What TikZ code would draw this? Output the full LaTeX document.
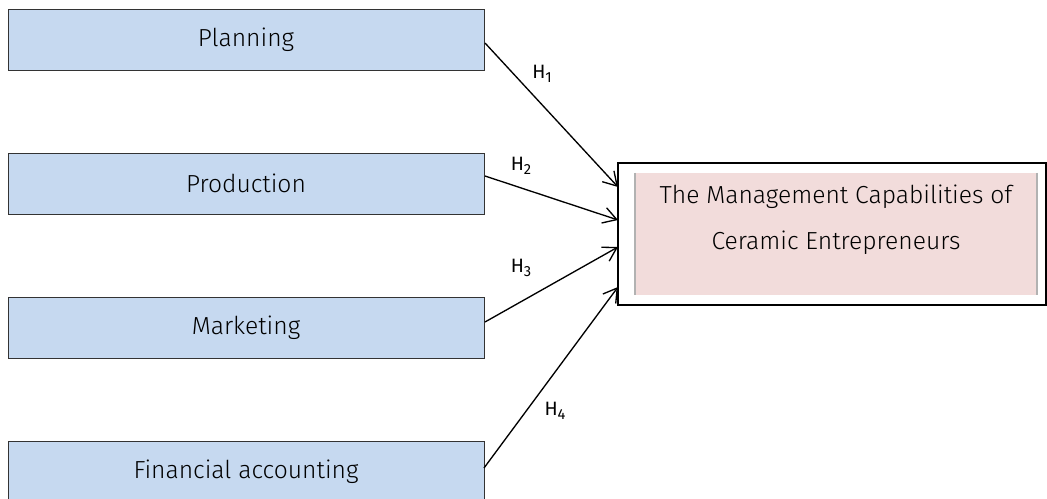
\documentclass[tikz,border=0pt]{standalone}
\usepackage{fontspec}
\setmainfont{Fira Sans Light}
\newfontfamily\hfont{Fira Sans}
\usetikzlibrary{arrows.meta}
\definecolor{boxblue}{RGB}{198,217,240}
\definecolor{boxpink}{RGB}{242,220,219}
\newcommand{\hsub}[1]{H\raisebox{-0.35ex}{\fontsize{11}{13}\selectfont #1}}
\tikzset{
  x=0.75pt, y=-0.75pt,
  src/.style={draw=black!80, line width=0.6pt, fill=boxblue, minimum width=476*0.75pt, minimum height=61*0.75pt, inner sep=0pt, font=\fontsize{18.5}{22}\selectfont},
  link/.style={line width=1pt, -{Straight Barb[length=10pt,width=12pt]}},
  hlab/.style={font=\hfont\fontsize{14.5}{16}\selectfont, inner sep=0pt}
}
\begin{document}
\begin{tikzpicture}
\useasboundingbox (0,0) rectangle (1047,499);
\node[src] (plan) at (246,39.5) {Planning};
\node[src] (prod) at (246,183.5) {Production};
\node[src] (mark) at (246,327.5) {Marketing};
\node[src] (fin) at (246,471.5) {Financial accounting};
% target
\node[draw=black, line width=1.5pt, fill=white, minimum width=428*0.75pt, minimum height=142*0.75pt, inner sep=0pt] (tgt) at (832,234) {};
\fill[boxpink] (635,173) rectangle (1037,295);
\draw[black!30, line width=0.8pt] (635,173) -- (635,295) (1037,173) -- (1037,295);
\node[align=center, font=\fontsize{18.5}{34.5}\selectfont, inner sep=0pt] (ttxt) at (836,220) {The Management Capabilities of\\Ceramic Entrepreneurs};
% arrows
\coordinate (e1) at (618,187);
\coordinate (e2) at (618,220);
\coordinate (e3) at (618,247);
\coordinate (e4) at (618,287);
\coordinate (s1) at (485,43);
\coordinate (s2) at (485,176);
\coordinate (s3) at (485,322);
\coordinate (s4) at (484,468);
\draw[link] (s1) -- (e1);
\draw[link] (s2) -- (e2);
\draw[link] (s3) -- (e3);
\draw[link] (s4) -- (e4);
\node[hlab] (h1) at (542,74) {\hsub{1}};
\node[hlab] (h2) at (521,166) {\hsub{2}};
\node[hlab] (h3) at (521,268) {\hsub{3}};
\node[hlab] (h4) at (555,411) {\hsub{4}};
\end{tikzpicture}
\end{document}
